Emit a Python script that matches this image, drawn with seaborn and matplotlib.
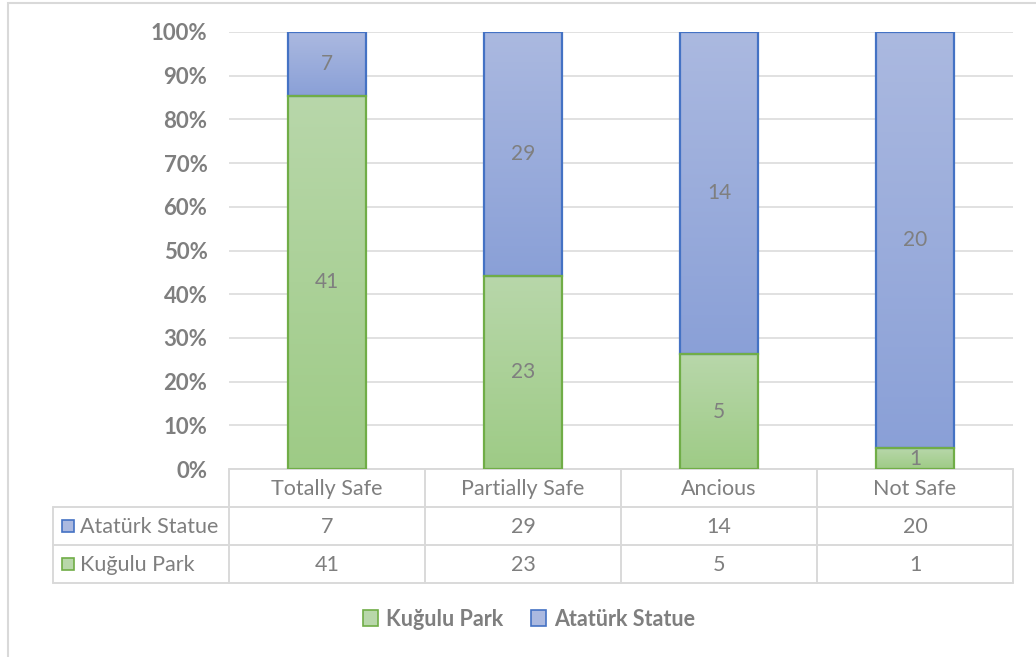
import numpy as np
import pandas as pd
import matplotlib
matplotlib.use("Agg")
import matplotlib.pyplot as plt
import seaborn as sns
from matplotlib.patches import Rectangle
from matplotlib.colors import LinearSegmentedColormap

# Responses per feeling-of-safety category
categories = ["Totally Safe", "Partially Safe", "Ancious", "Not Safe"]
kugulu = [41, 23, 5, 1]
ataturk = [7, 29, 14, 20]
series_names = ["Kuğulu Park", "Atatürk Statue"]
y_ticks = [0, 10, 20, 30, 40, 50, 60, 70, 80, 90, 100]

totals = np.array(kugulu) + np.array(ataturk)
kug_pct = np.array(kugulu) / totals * 100
ata_pct = np.array(ataturk) / totals * 100

df = pd.DataFrame({"category": categories, "kug": kug_pct, "ata": ata_pct})

sns.set_theme(style="white")
FONT = "Lato"
plt.rcParams["font.family"] = [FONT, "DejaVu Sans"]

GRAY = "#7f7f7f"
GRID = "#d9d9d9"
BLUE_EDGE = "#4472c4"
GREEN_EDGE = "#70ad47"
BLUE_TOP, BLUE_BOT = "#abb9e0", "#8aa0d7"
GREEN_TOP, GREEN_BOT = "#b8d7aa", "#9ecb86"

W, H = 1036, 657
fig = plt.figure(figsize=(W / 100, H / 100), dpi=100)
ax = fig.add_axes([229 / W, 1 - 469 / H, 784 / W, 437 / H])

# Full-height bars for the upper series, lower series drawn after
sns.barplot(data=df, x="category", y=[100] * 4, color=BLUE_BOT, width=0.4,
            ax=ax, edgecolor=BLUE_EDGE, linewidth=1.6, saturation=1, zorder=3)
sns.barplot(data=df, x="category", y="kug", color=GREEN_BOT, width=0.4,
            ax=ax, edgecolor=GREEN_EDGE, linewidth=1.6, saturation=1, zorder=3)

blue_patches = ax.patches[:4]
green_patches = ax.patches[4:8]
for p, base, h in zip(blue_patches, kug_pct, ata_pct):
    p.set_y(base)
    p.set_height(h)


def add_gradient(patch, top, bot):
    cmap = LinearSegmentedColormap.from_list("g", [bot, top])
    x0, y0 = patch.get_x(), patch.get_y()
    w, h = patch.get_width(), patch.get_height()
    grad = np.linspace(0, 1, 256).reshape(-1, 1)
    im = ax.imshow(grad, cmap=cmap, origin="lower", aspect="auto",
                   extent=(x0, x0 + w, y0, y0 + h), zorder=2.5)
    im.set_clip_path(patch)
    patch.set_facecolor("none")


for p in blue_patches:
    add_gradient(p, BLUE_TOP, BLUE_BOT)
for p in green_patches:
    add_gradient(p, GREEN_TOP, GREEN_BOT)

# Value labels centred in each segment
LBL = 15
for i in range(4):
    ax.text(i, kug_pct[i] / 2, str(kugulu[i]), ha="center", va="center",
            fontsize=LBL, color=GRAY, zorder=5)
    ax.text(i, kug_pct[i] + ata_pct[i] / 2, str(ataturk[i]), ha="center",
            va="center", fontsize=LBL, color=GRAY, zorder=5)

ax.set_xlim(-0.5, 3.5)
ax.set_ylim(0, 100)
ax.set_yticks(y_ticks)
ax.set_yticklabels([f"{t}%" for t in y_ticks], fontsize=16, fontweight="bold",
                   color=GRAY)
ax.tick_params(axis="y", length=0, pad=15.5)
ax.set_xticks([])
ax.set_xlabel("")
ax.set_ylabel("")
ax.yaxis.grid(True, color=GRID, linewidth=1.1, zorder=0)
ax.set_axisbelow(True)
for s in ax.spines.values():
    s.set_visible(False)
ax.set_xlim(-0.5, 3.5)

# Data table beneath the plot
TBL = 15.5
row_h = 38 / 437
left = (53 - 229) / 784
tr = ax.transAxes
lw = 1.4
line_kw = dict(color=GRID, linewidth=lw, transform=tr, clip_on=False, zorder=1)
# horizontal rules
ax.plot([0, 1], [0, 0], **line_kw)
for k in (1, 2, 3):
    ax.plot([left, 1], [-k * row_h, -k * row_h], **line_kw)
# vertical rules
ax.plot([left, left], [-row_h, -3 * row_h], **line_kw)
for j in range(5):
    xj = j / 4
    ax.plot([xj, xj], [0, -3 * row_h], **line_kw)

for j, cat in enumerate(categories):
    xc = (j + 0.5) / 4
    ax.text(xc, -0.53 * row_h, cat, transform=tr, ha="center", va="center",
            fontsize=TBL, color=GRAY)
    ax.text(xc, -1.53 * row_h, str(ataturk[j]), transform=tr, ha="center",
            va="center", fontsize=TBL, color=GRAY)
    ax.text(xc, -2.53 * row_h, str(kugulu[j]), transform=tr, ha="center",
            va="center", fontsize=TBL, color=GRAY)

key_w = 12 / 784
key_h = 12 / 437
for r, (name, fc, ec) in enumerate([("Atatürk Statue", BLUE_TOP, BLUE_EDGE),
                                    ("Kuğulu Park", GREEN_TOP, GREEN_EDGE)]):
    yc = -(1.5 + r) * row_h
    kx = (62 - 229) / 784
    ax.add_patch(Rectangle((kx, yc - key_h / 2), key_w, key_h, transform=tr,
                           facecolor=fc, edgecolor=ec, linewidth=1.2,
                           clip_on=False))
    ax.text((80 - 229) / 784, yc - 0.03 * row_h, name, transform=tr, ha="left",
            va="center", fontsize=TBL, color=GRAY)

# Legend
handles = [Rectangle((0, 0), 1, 1, facecolor=GREEN_TOP, edgecolor=GREEN_EDGE, linewidth=1.2),
           Rectangle((0, 0), 1, 1, facecolor=BLUE_TOP, edgecolor=BLUE_EDGE, linewidth=1.2)]
leg = fig.legend(handles, series_names, loc="center", bbox_to_anchor=(529 / W, 1 - 619 / H),
                 ncol=2, frameon=False, handlelength=0.7, handleheight=0.7,
                 handletextpad=0.35, columnspacing=1.3,
                 prop={"family": FONT, "weight": "bold", "size": 15.5})
for t in leg.get_texts():
    t.set_color(GRAY)

# Chart frame
fig.patches.append(Rectangle((8 / W, -0.1), 1.1, 1 - 3 / H + 0.1, transform=fig.transFigure,
                             facecolor="none", edgecolor=GRID, linewidth=1.5))

fig.savefig("out.png", dpi=100)
